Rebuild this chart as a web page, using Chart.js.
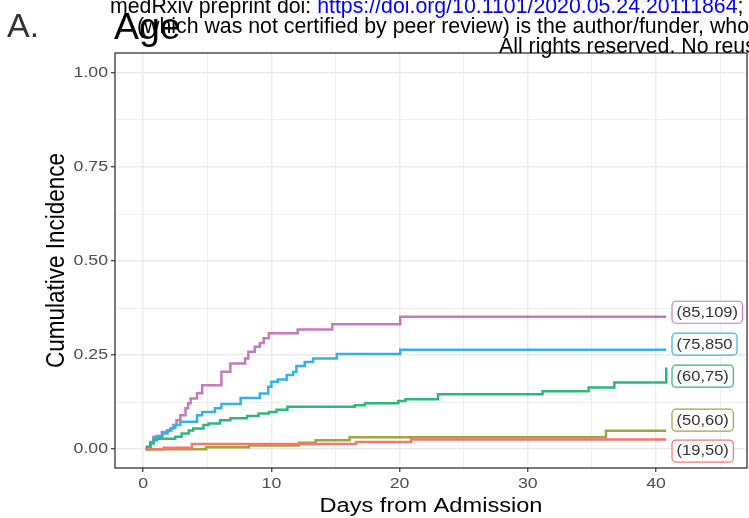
<!DOCTYPE html>
<html><head><meta charset="utf-8">
<script src="https://cdn.jsdelivr.net/npm/chart.js@4.4.1/dist/chart.umd.min.js"></script>
<style>
html,body{margin:0;padding:0;background:#fff;}
#wrap{position:relative;width:749px;height:518px;overflow:hidden;background:#fff;}
#c{position:absolute;left:0;top:0;}
.t{position:absolute;white-space:nowrap;font-family:'Liberation Sans',Arial,sans-serif;line-height:1;}
</style></head><body>
<div id="wrap">
<canvas id="c" width="749" height="518"></canvas>
<div class="t" style="left:7px;top:8px;font-size:34px;color:#333;">A.</div>
<div class="t" style="left:114px;top:8px;font-size:37.5px;color:#000;">Age</div>
<div class="t" style="left:110px;top:-4px;font-size:21.3px;color:#000;">medRxiv preprint doi: <span style="color:#0000ff">https://doi.org/10.1101/2020.05.24.20111864</span>;</div>
<div class="t" style="left:137px;top:16px;font-size:21.3px;color:#000;">(which was not certified by peer review) is the author/funder, who</div>
<div class="t" style="left:499px;top:36px;font-size:21.3px;color:#000;">All rights reserved. No reus</div>
</div>
<script>
// ---- data ----
const groups = ['(19,50)', '(50,60)', '(60,75)', '(75,850', '(85,109)'];
const colors = ['#F3776C', '#A2A43A', '#2DB87A', '#35B0E8', '#C37BBD'];

const days_19_50 = [0.2, 1.6, 3.8, 16.6, 20.9, 40.8];
const inc_19_50  = [0, 0.004, 0.014, 0.019, 0.026, 0.026];

const days_50_60 = [0.2, 4.9, 8.25, 12.15, 13.45, 16.1, 36.1, 40.8];
const inc_50_60  = [0, 0.005, 0.010, 0.017, 0.024, 0.032, 0.049, 0.049];

const days_60_75 = [0.2, 0.3, 0.55, 0.8, 1.07, 2.5, 3.0, 3.55, 3.9, 4.7, 5.1, 6.0, 6.8, 8.1, 9.0, 9.8, 10.4, 11.25, 16.5, 17.3, 19.9, 20.45, 23.0, 31.15, 34.75, 36.75, 40.8];
const inc_60_75  = [0, 0.006, 0.016, 0.024, 0.028, 0.033, 0.042, 0.050, 0.055, 0.064, 0.068, 0.077, 0.082, 0.088, 0.095, 0.099, 0.105, 0.113, 0.117, 0.122, 0.128, 0.133, 0.146, 0.154, 0.164, 0.177, 0.217];

const days_75_850 = [0.2, 0.3, 0.55, 0.8, 1.07, 1.5, 1.9, 2.2, 2.5, 2.9, 4.2, 4.6, 5.6, 6.1, 7.6, 9.1, 9.75, 10.0, 10.5, 11.2, 11.7, 11.95, 12.6, 13.25, 15.1, 20.05, 40.8];
const inc_75_850  = [0, 0.006, 0.016, 0.029, 0.035, 0.042, 0.050, 0.056, 0.064, 0.073, 0.090, 0.099, 0.109, 0.120, 0.136, 0.148, 0.166, 0.179, 0.185, 0.197, 0.205, 0.221, 0.232, 0.241, 0.253, 0.264, 0.264];

const days_85_109 = [0.2, 0.3, 0.55, 0.8, 1.45, 1.85, 2.1, 2.35, 2.6, 2.9, 3.3, 3.5, 3.7, 4.2, 4.6, 6.1, 6.8, 7.95, 8.2, 8.7, 9.1, 9.4, 9.8, 12.05, 14.75, 20.05, 40.8];
const inc_85_109  = [0, 0.006, 0.019, 0.033, 0.046, 0.050, 0.055, 0.064, 0.077, 0.090, 0.109, 0.122, 0.135, 0.149, 0.170, 0.206, 0.228, 0.241, 0.259, 0.272, 0.282, 0.295, 0.308, 0.318, 0.332, 0.352, 0.352];

const seriesDays = [days_19_50, days_50_60, days_60_75, days_75_850, days_85_109];
const seriesInc  = [inc_19_50, inc_50_60, inc_60_75, inc_75_850, inc_85_109];

// end-of-curve label anchors (day of box left edge, incidence of box centre)
const labelDay = 41.25;
const labelInc = [-0.005, 0.077, 0.194, 0.279, 0.364];

const xTickValues = [0, 5, 10, 15, 20, 25, 30, 35, 40, 45];
const yTickValues = [0, 0.125, 0.25, 0.375, 0.5, 0.625, 0.75, 0.875, 1.0];

// ---- rendering ----
const SX = 1.18;
const FONT = "'Liberation Sans', Arial, sans-serif";
const isMajorX = v => Math.abs(v / 10 - Math.round(v / 10)) < 1e-9;
const isMajorY = v => Math.abs(v * 4 - Math.round(v * 4)) < 1e-9;

const stretchPlugin = {
  id: 'stretch',
  beforeDraw(chart) {
    const ctx = chart.ctx;
    if (ctx._origFill) return;
    const orig = ctx.fillText;
    ctx._origFill = orig;
    ctx.fillText = function (text, x, y) {
      const m = this.getTransform();
      this.save();
      this.translate(x, y);
      if (Math.abs(m.b) > Math.abs(m.a)) this.scale(1, SX); else this.scale(SX, 1);
      orig.call(this, text, 0, 0);
      this.restore();
    };
  },
  afterDraw(chart) {
    const ctx = chart.ctx;
    if (ctx._origFill) { ctx.fillText = ctx._origFill; delete ctx._origFill; }
  }
};

const framePlugin = {
  id: 'frame',
  afterDatasetsDraw(chart) {
    const {ctx, chartArea: a, scales} = chart;
    ctx.save();
    ctx.strokeStyle = '#333333';
    ctx.lineWidth = 1.3;
    ctx.strokeRect(a.left, a.top, a.right - a.left, a.bottom - a.top);
    // boxed labels
    ctx.font = '14px ' + FONT;
    ctx.textBaseline = 'middle';
    ctx.textAlign = 'left';
    groups.forEach((g, i) => {
      const x0 = scales.x.getPixelForValue(labelDay);
      const yc = scales.y.getPixelForValue(labelInc[i]);
      const w = ctx.measureText(g).width * SX + 9;
      const h = 22;
      ctx.beginPath();
      ctx.roundRect(x0, yc - h / 2, w, h, 4);
      ctx.fillStyle = '#ffffff';
      ctx.fill();
      ctx.strokeStyle = colors[i];
      ctx.lineWidth = 1.2;
      ctx.stroke();
      ctx.fillStyle = '#333333';
      ctx.fillText(g, x0 + 4.5, yc + 0.5);
    });
    ctx.restore();
  }
};

const datasets = groups.map((g, i) => ({
  label: g,
  data: seriesDays[i].map((d, j) => ({x: d, y: seriesInc[i][j]})),
  borderColor: colors[i],
  backgroundColor: colors[i],
  borderWidth: 2.5,
  pointRadius: 0,
  stepped: true,
  fill: false
}));

new Chart(document.getElementById('c'), {
  type: 'line',
  data: {datasets},
  options: {
    responsive: false,
    animation: false,
    devicePixelRatio: 1,
    layout: {padding: {top: 53, right: 2, left: 0, bottom: 0}},
    plugins: {legend: {display: false}, tooltip: {enabled: false}, title: {display: false}},
    scales: {
      x: {
        type: 'linear', min: -2.2, max: 47.1,
        afterBuildTicks: s => { s.ticks = xTickValues.map(v => ({value: v})); },
        afterFit: s => { s.height = 50; },
        border: {display: false},
        grid: {
          color: '#EBEBEB',
          lineWidth: c => isMajorX(c.tick.value) ? 1.5 : 0.8,
          tickColor: c => isMajorX(c.tick.value) ? '#333333' : 'rgba(0,0,0,0)',
          tickLength: 4, tickWidth: 1.2
        },
        ticks: {
          autoSkip: false, maxRotation: 0, padding: 3,
          color: '#4D4D4D', font: {family: FONT, size: 15},
          callback: v => isMajorX(v) ? String(v) : ''
        },
        title: {display: true, text: 'Days from Admission', color: '#000', font: {family: FONT, size: 20}, padding: {top: 0, bottom: 0}}
      },
      y: {
        type: 'linear', min: -0.05, max: 1.053,
        afterBuildTicks: s => { s.ticks = yTickValues.map(v => ({value: v})); },
        afterFit: s => { s.width = 115; },
        border: {display: false},
        grid: {
          color: '#EBEBEB',
          lineWidth: c => isMajorY(c.tick.value) ? 1.5 : 0.8,
          tickColor: c => isMajorY(c.tick.value) ? '#333333' : 'rgba(0,0,0,0)',
          tickLength: 4, tickWidth: 1.2
        },
        ticks: {
          autoSkip: false, padding: 3,
          color: '#4D4D4D', font: {family: FONT, size: 15},
          callback: v => isMajorY(v) ? v.toFixed(2) : ''
        },
        title: {display: true, text: 'Cumulative Incidence', color: '#000', font: {family: FONT, size: 22.5}, padding: {top: 43, bottom: 0}}
      }
    }
  },
  plugins: [stretchPlugin, framePlugin]
});
</script>
</body></html>
